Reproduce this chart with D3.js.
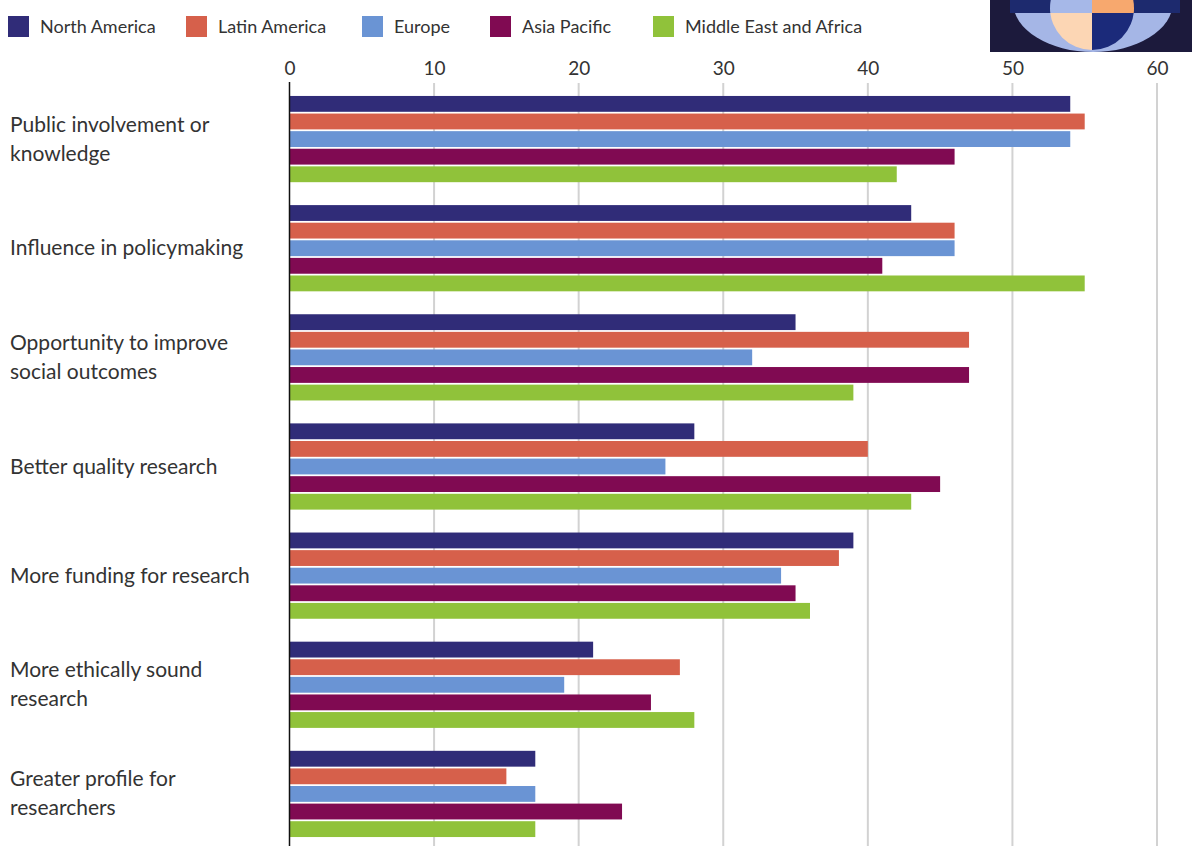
<!DOCTYPE html>
<html>
<head>
<meta charset="utf-8">
<script src="https://cdn.jsdelivr.net/npm/d3@7"></script>
<style>
  html, body { margin: 0; padding: 0; background: #fff; }
  svg { display: block; font-family: Lato, "Open Sans", sans-serif; }
</style>
</head>
<body>
<div id="chart"></div>
<script>
// --- Data ---
const categories = [
  "Public involvement or\nknowledge",
  "Influence in policymaking",
  "Opportunity to improve\nsocial outcomes",
  "Better quality research",
  "More funding for research",
  "More ethically sound\nresearch",
  "Greater profile for\nresearchers"
];
const regions = ["North America", "Latin America", "Europe", "Asia Pacific", "Middle East and Africa"];
const northAmerica = [54, 43, 35, 28, 39, 21, 17];
const latinAmerica = [55, 46, 47, 40, 38, 27, 15];
const europe       = [54, 46, 32, 26, 34, 19, 17];
const asiaPacific  = [46, 41, 47, 45, 35, 25, 23];
const middleEast   = [42, 55, 39, 43, 36, 28, 17];
const ticks = [0, 10, 20, 30, 40, 50, 60];

const seriesValues = [northAmerica, latinAmerica, europe, asiaPacific, middleEast];
const colors = ["#302c78", "#d6604b", "#6a94d4", "#800a52", "#90c23a"];

const width = 1192, height = 850;

const svg = d3.select("#chart").append("svg")
  .attr("width", width)
  .attr("height", height);

// --- Scales ---
const x = d3.scaleLinear().domain([0, 60]).range([289.5, 1157]);
const y0 = d3.scaleBand().domain(d3.range(categories.length))
  .range([84.5, 848.5]).paddingInner(0.21).paddingOuter(0.105);
const y1 = d3.scaleBand().domain(d3.range(regions.length))
  .range([0, y0.bandwidth()]).paddingInner(0.1);
const color = d3.scaleOrdinal().domain(d3.range(regions.length)).range(colors);

// --- Gridlines ---
svg.append("g")
  .selectAll("line")
  .data(ticks.filter(t => t > 0))
  .join("line")
  .attr("x1", d => x(d)).attr("x2", d => x(d))
  .attr("y1", 83).attr("y2", 846)
  .attr("stroke", "#d2d2d2")
  .attr("stroke-width", 2);

// --- Tick labels (top axis) ---
const axis = d3.axisTop(x).tickValues(ticks).tickSize(0).tickPadding(0);
const axisG = svg.append("g")
  .attr("transform", "translate(0,75)")
  .call(axis);
axisG.select(".domain").remove();
axisG.selectAll("text")
  .attr("font-family", "Lato, sans-serif")
  .attr("font-size", 19)
  .attr("fill", "#333");

// --- Bars ---
const groups = svg.append("g")
  .selectAll("g")
  .data(categories.map((c, i) => i))
  .join("g")
  .attr("transform", i => `translate(0,${y0(i)})`);

groups.selectAll("rect")
  .data(i => seriesValues.map((s, k) => ({ k, v: s[i] })))
  .join("rect")
  .attr("x", x(0))
  .attr("y", d => y1(d.k))
  .attr("width", d => x(d.v) - x(0))
  .attr("height", y1.bandwidth())
  .attr("fill", d => color(d.k));

// --- Zero axis line ---
svg.append("line")
  .attr("x1", x(0)).attr("x2", x(0))
  .attr("y1", 82).attr("y2", 846)
  .attr("stroke", "#111")
  .attr("stroke-width", 1.5);

// --- Category labels ---
const lineH = 29;
svg.append("g")
  .selectAll("text")
  .data(categories)
  .join("text")
  .attr("x", 10)
  .attr("y", (d, i) => y0(i) + y0.bandwidth() / 2)
  .attr("font-size", 21)
  .attr("fill", "#333")
  .each(function(d) {
    const lines = d.split("\n");
    const t = d3.select(this);
    lines.forEach((ln, j) => {
      t.append("tspan")
        .attr("x", 10)
        .attr("dy", j === 0 ? ((-(lines.length - 1) / 2) * lineH + 7) : lineH)
        .text(ln);
    });
  });

// --- Legend ---
const legendX = [8, 186, 362, 490, 653];
const legend = svg.append("g")
  .selectAll("g")
  .data(regions)
  .join("g")
  .attr("transform", (d, i) => `translate(${legendX[i]},16)`);
legend.append("rect")
  .attr("width", 21).attr("height", 21)
  .attr("fill", (d, i) => color(i));
legend.append("text")
  .attr("x", 32).attr("y", 17)
  .attr("font-size", 18)
  .attr("fill", "#333")
  .text(d => d);

// --- Corner logo ---
const logo = svg.append("g");
const defs = svg.append("defs");
defs.append("clipPath").attr("id", "logoClip")
  .append("rect").attr("x", 990).attr("y", 0).attr("width", 202).attr("height", 52);
defs.append("clipPath").attr("id", "topClip")
  .append("rect").attr("x", 1040).attr("y", -50).attr("width", 110).attr("height", 63);
defs.append("clipPath").attr("id", "botClip")
  .append("rect").attr("x", 1040).attr("y", 13).attr("width", 110).attr("height", 60);

logo.append("rect")
  .attr("x", 990).attr("y", 0).attr("width", 202).attr("height", 52)
  .attr("fill", "#1c1a3c");
const lg = logo.append("g").attr("clip-path", "url(#logoClip)");
lg.append("ellipse")
  .attr("cx", 1093).attr("cy", 2).attr("rx", 80).attr("ry", 50)
  .attr("fill", "#a5b6e6");
lg.append("rect")
  .attr("x", 1010).attr("y", 0).attr("width", 170).attr("height", 13)
  .attr("fill", "#1d2a6e");

const cx = 1092, cy = 8, r = 42;
const arc = d3.arc().innerRadius(0).outerRadius(r);
const halves = [
  { clip: "topClip", a0: Math.PI, a1: 2 * Math.PI, fill: "#a6b8e8" },
  { clip: "topClip", a0: 0, a1: Math.PI, fill: "#f7a86e" },
  { clip: "botClip", a0: Math.PI, a1: 2 * Math.PI, fill: "#fcd6b4" },
  { clip: "botClip", a0: 0, a1: Math.PI, fill: "#1b2a7a" }
];
halves.forEach(h => {
  lg.append("g").attr("clip-path", `url(#${h.clip})`)
    .append("path")
    .attr("transform", `translate(${cx},${cy})`)
    .attr("d", arc({ startAngle: h.a0, endAngle: h.a1 }))
    .attr("fill", h.fill);
});
</script>
</body>
</html>
